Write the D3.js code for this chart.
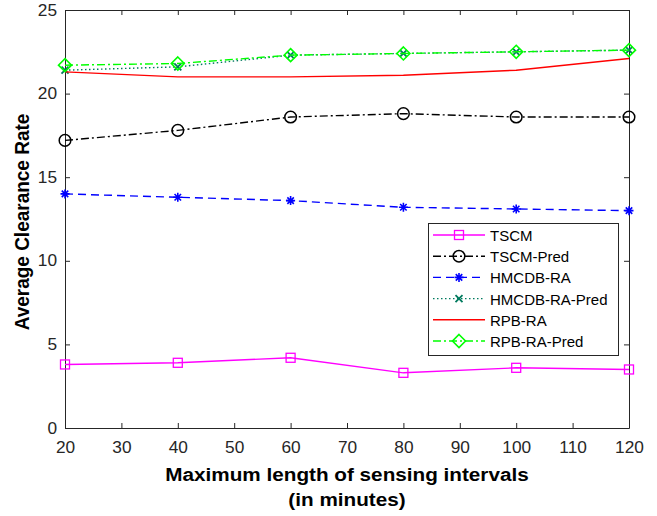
<!DOCTYPE html>
<html>
<head>
<meta charset="utf-8">
<script src="https://cdn.jsdelivr.net/npm/d3@7"></script>
<style>
  body { margin: 0; background: #fff; }
  svg { display: block; font-family: "Liberation Sans", Arial, sans-serif; }
</style>
</head>
<body>
<svg id="chart" width="657" height="516"></svg>
<script>
// Sensing interval lengths (minutes)
const intervals = [20, 40, 60, 80, 100, 120];
const xTicks = [20, 30, 40, 50, 60, 70, 80, 90, 100, 110, 120];
const yTicks = [0, 5, 10, 15, 20, 25];

// Average clearance rate per method
const tscm        = [3.8, 3.9, 4.2, 3.3, 3.6, 3.5];
const tscmPred    = [17.2, 17.8, 18.6, 18.8, 18.6, 18.6];
const hmcdb       = [14.0, 13.8, 13.6, 13.2, 13.1, 13.0];
const hmcdbPred   = [21.4, 21.6, 22.3, 22.4, 22.5, 22.6];
const rpb         = [21.3, 21.0, 21.0, 21.1, 21.4, 22.1];
const rpbPred     = [21.7, 21.8, 22.3, 22.4, 22.5, 22.6];

const seriesNames = ["TSCM", "TSCM-Pred", "HMCDB-RA", "HMCDB-RA-Pred", "RPB-RA", "RPB-RA-Pred"];
const seriesValues = [tscm, tscmPred, hmcdb, hmcdbPred, rpb, rpbPred];
const styles = [
  { color: "#ff00ff", dash: null,            marker: "square" },
  { color: "#000000", dash: "8,3,2,3",       marker: "circle" },
  { color: "#0000ff", dash: "8,5",           marker: "star" },
  { color: "#007a5e", dash: "1.5,2.5",       marker: "x" },
  { color: "#ff0000", dash: null,            marker: null },
  { color: "#00ff00", dash: "8,3,2,3",       marker: "diamond" }
];

const svg = d3.select("#chart");
const L = 65, R = 629, T = 10, B = 428;
const SX_TICK = 1.08;   // horizontal widening of tick labels
const SX_TITLE = 1.09;  // horizontal widening of axis titles

const x = d3.scaleLinear().domain([20, 120]).range([L, R]);
const y = d3.scaleLinear().domain([0, 25]).range([B, T]);

const axisColor = "#262626";
const tickFont = 16;

// Axes with inward ticks, mirrored on top and right
const gx = svg.append("g").attr("transform", `translate(0,${B})`)
  .call(d3.axisBottom(x).tickValues(xTicks).tickSizeInner(-5).tickSizeOuter(0).tickPadding(14));
const gxTop = svg.append("g").attr("transform", `translate(0,${T})`)
  .call(d3.axisTop(x).tickValues(xTicks).tickSizeInner(-5).tickSizeOuter(0).tickFormat(""));
const gy = svg.append("g").attr("transform", `translate(${L},0)`)
  .call(d3.axisLeft(y).tickValues(yTicks).tickSizeInner(-5).tickSizeOuter(0).tickPadding(8));
const gyRight = svg.append("g").attr("transform", `translate(${R},0)`)
  .call(d3.axisRight(y).tickValues(yTicks).tickSizeInner(-5).tickSizeOuter(0).tickFormat(""));

[gx, gxTop, gy, gyRight].forEach(g => {
  g.select(".domain").attr("stroke", axisColor).attr("stroke-width", 1);
  g.selectAll(".tick line").attr("stroke", axisColor);
  g.selectAll(".tick text").attr("fill", axisColor)
    .style("font-size", tickFont + "px")
    .style("font-family", "'Liberation Sans', Arial, sans-serif")
    .each(function () {
      const t = d3.select(this);
      const tx = +t.attr("x") || 0;
      t.attr("x", 0).attr("transform", `translate(${tx},0) scale(${SX_TICK},1)`);
    });
});

// Axis titles
function wideText(parent, px, py, txt, size, weight, anchor, sx) {
  return parent.append("text")
    .attr("transform", `translate(${px},${py}) scale(${sx},1)`)
    .attr("text-anchor", anchor || "middle")
    .style("font-size", size + "px").style("font-weight", weight || "normal")
    .attr("fill", "#000").text(txt);
}
wideText(svg, 347, 481, "Maximum length of sensing intervals", 19, "bold", "middle", SX_TITLE);
wideText(svg, 347, 506, "(in minutes)", 19, "bold", "middle", SX_TITLE);
svg.append("text").attr("transform", `translate(29,222) scale(${SX_TITLE},1) rotate(-90)`)
  .attr("text-anchor", "middle")
  .style("font-size", "19px").style("font-weight", "bold").attr("fill", "#000")
  .text("Average Clearance Rate");

// Marker drawing
function drawMarker(g, type, cx, cy, color) {
  if (type === "square") {
    g.append("rect").attr("x", cx - 4.5).attr("y", cy - 4.5).attr("width", 9).attr("height", 9)
      .attr("fill", "none").attr("stroke", color).attr("stroke-width", 1.3);
  } else if (type === "circle") {
    g.append("circle").attr("cx", cx).attr("cy", cy).attr("r", 5.8)
      .attr("fill", "none").attr("stroke", color).attr("stroke-width", 1.5);
  } else if (type === "diamond") {
    g.append("path").attr("d", `M${cx},${cy - 6.5}L${cx + 6.5},${cy}L${cx},${cy + 6.5}L${cx - 6.5},${cy}Z`)
      .attr("fill", "none").attr("stroke", color).attr("stroke-width", 1.6);
  } else if (type === "x") {
    const s = 3.5;
    g.append("path").attr("d", `M${cx - s},${cy - s}L${cx + s},${cy + s}M${cx - s},${cy + s}L${cx + s},${cy - s}`)
      .attr("stroke", color).attr("stroke-width", 1.8);
  } else if (type === "star") {
    const s = 4.5, d = s * 0.72;
    g.append("path").attr("d",
      `M${cx - s},${cy}L${cx + s},${cy}M${cx},${cy - s}L${cx},${cy + s}` +
      `M${cx - d},${cy - d}L${cx + d},${cy + d}M${cx - d},${cy + d}L${cx + d},${cy - d}`)
      .attr("stroke", color).attr("stroke-width", 1.6);
  }
}

const line = d3.line().x((d, i) => x(intervals[i])).y(d => y(d));

// Series lines and markers
const plot = svg.append("g");
seriesValues.forEach((vals, k) => {
  const st = styles[k];
  const g = plot.append("g");
  g.append("path").datum(vals).attr("d", line)
    .attr("fill", "none").attr("stroke", st.color).attr("stroke-width", 1.4)
    .attr("stroke-dasharray", st.dash);
  if (st.marker) {
    vals.forEach((v, i) => drawMarker(g, st.marker, x(intervals[i]), y(v), st.color));
  }
});

// Legend
const lg = svg.append("g");
lg.append("rect").attr("x", 428.5).attr("y", 223.5).attr("width", 190).attr("height", 132)
  .attr("fill", "#fff").attr("stroke", axisColor).attr("stroke-width", 1);
const rowY = d3.scaleLinear().domain([0, 5]).range([235, 341]);
seriesNames.forEach((name, k) => {
  const st = styles[k];
  const yy = rowY(k);
  lg.append("line").attr("x1", 433).attr("x2", 485).attr("y1", yy).attr("y2", yy)
    .attr("stroke", st.color).attr("stroke-width", 1.4).attr("stroke-dasharray", st.dash);
  if (st.marker) drawMarker(lg, st.marker, 459, yy, st.color);
  lg.append("text").attr("x", 490).attr("y", yy + 6)
    .style("font-size", "15px").attr("fill", "#000").text(name);
});
</script>
</body>
</html>
